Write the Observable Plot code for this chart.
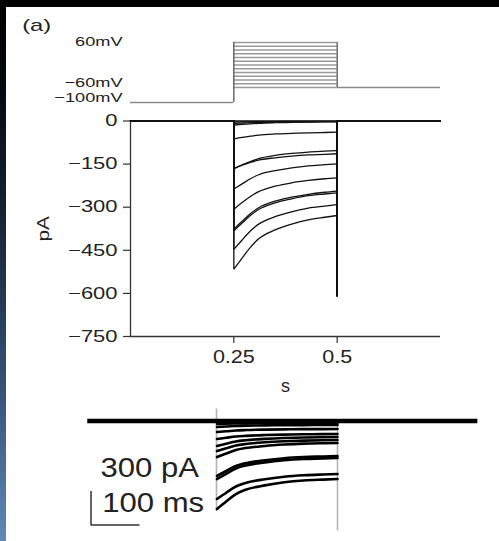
<!DOCTYPE html>
<html><head><meta charset="utf-8">
<script src="https://cdn.jsdelivr.net/npm/d3@7"></script>
<script src="https://cdn.jsdelivr.net/npm/@observablehq/plot@0.6"></script>
<style>
html,body{margin:0;padding:0;background:#fff;}
#page{position:relative;width:499px;height:541px;overflow:hidden;background:#fff;font-family:"Liberation Sans",Arial,sans-serif;}
#topband{position:absolute;left:0;top:0;width:499px;height:7px;background:#000;z-index:5;}
#leftband{position:absolute;left:0;top:0;width:6px;height:541px;z-index:5;
 background:linear-gradient(to bottom,#000 0%,#05080d 15%,#1a2a40 45%,#3a5780 75%,#6089b5 100%);}
#page svg{position:absolute;left:0;top:0;}
</style></head><body><div id="page"><div id="topband"></div><div id="leftband"></div></div>
<script>
// ---------- data ----------
// voltage protocol (mV, s)
const holdingMV = -100;
const tailMV = -60;
const stepLevelsMV = [-60, -50, -40, -30, -20, -10, 0, 10, 20, 30, 40, 50, 60];
const stepOn = 0.25, stepOff = 0.5, sweepEnd = 0.75;
const voltLabelValues = [60, -60, -100];
const voltLabelTexts = ["60mV", "\u221260mV", "\u2212100mV"];

// averaged current traces (pA) sampled during the step
const decayTimes = [0.251, 0.27, 0.29, 0.31, 0.35, 0.39, 0.43, 0.47, 0.50];
const currentTraces = [
  [0, 0, 0, 0, 0, 0, 0, 0, 0],
  [-4, -3, -3, -2, -2, -1, -1, -1, -1],
  [-8, -7, -6, -5, -4, -3, -3, -2, -2],
  [-14, -12, -10, -8, -6, -5, -4, -3, -3],
  [-62, -57, -53, -49, -45, -43, -41, -40, -39],
  [-166, -153, -141, -131, -120, -113, -108, -105, -103],
  [-164, -154, -144, -136, -128, -122, -118, -116, -114],
  [-236, -219, -201, -187, -173, -163, -156, -152, -149],
  [-306, -284, -263, -246, -227, -215, -207, -201, -198],
  [-375, -349, -323, -302, -279, -265, -255, -248, -244],
  [-381, -355, -329, -308, -285, -271, -260, -254, -250],
  [-445, -414, -383, -359, -333, -316, -303, -296, -291],
  [-514, -477, -440, -410, -379, -359, -344, -335, -329]
];
const tailPeakPA = -608;
const xTicks = [0.25, 0.5];
const xTickLabels = ["0.25", "0.5"];
const yTicks = [0, -150, -300, -450, -600, -750];
const yTickLabels = ["0", "\u2212150", "\u2212300", "\u2212450", "\u2212600", "\u2212750"];
const xLabel = "s", yLabel = "pA", panelLabel = "(a)";

// raw recording (pA)
const rawStart = -0.016, rawEnd = 0.79;
const rawTraces = [
  [-9, -9, -9, -9, -9, -9, -9, -9, -9],
  [-26, -24, -22, -21, -20, -19, -18, -18, -18],
  [-53, -49, -44, -41, -39, -37, -36, -35, -35],
  [-97, -91, -84, -80, -76, -74, -72, -72, -71],
  [-159, -148, -137, -131, -124, -120, -117, -116, -115],
  [-221, -201, -181, -170, -158, -150, -145, -143, -141],
  [-265, -241, -217, -203, -188, -179, -173, -170, -168],
  [-318, -287, -256, -239, -220, -208, -200, -196, -194],
  [-485, -441, -397, -372, -346, -328, -318, -313, -309],
  [-512, -466, -419, -393, -365, -346, -335, -330, -326],
  [-688, -633, -578, -547, -514, -492, -479, -472, -468],
  [-777, -711, -645, -607, -568, -541, -525, -517, -512]
];
const transientTimes = [0.25, 0.5];
const transientHigh = [106, 0];
const transientLow = [-794, -970];
const scaleBarMs = 100, scaleBarPA = 300;
const scaleBarLabels = ["300 pA", "100 ms"];

// ---------- helpers ----------
const page = document.getElementById("page");
const FONT = "Liberation Sans, Arial, sans-serif";
const svgStyle = {background: "transparent", overflow: "visible", fontFamily: FONT, color: "#222"};
function stretchFactor(s) {
  if (/mV$/.test(s)) return 1.42;
  if (yTickLabels.includes(s)) return 1.33;
  if (xTickLabels.includes(s)) return 1.23;
  if (s === panelLabel) return 1.4;
  if (s === yLabel) return 1.3;
  if (scaleBarLabels.includes(s)) return 1.15;
  return 1;
}
function mount(svg) {
  page.appendChild(svg);
  svg.querySelectorAll("text").forEach(t => {
    if (t.querySelector("tspan")) return;
    const k = stretchFactor(t.textContent);
    if (k !== 1) {
      const L = t.getComputedTextLength();
      t.setAttribute("textLength", (L * k).toFixed(2));
      t.setAttribute("lengthAdjust", "spacingAndGlyphs");
    }
  });
}

// ---------- voltage protocol ----------
const vMax = d3.max(stepLevelsMV);
const labelDy = [-0.8, -4.6, -4.7];
mount(Plot.plot({
  width: 499, height: 541,
  marginLeft: 130, marginRight: 59, marginTop: 42, marginBottom: 439,
  style: svgStyle,
  x: {domain: [0, sweepEnd], axis: null},
  y: {domain: [holdingMV, vMax], axis: null},
  marks: [
    Plot.ruleY(stepLevelsMV, {x1: stepOn, x2: stepOff, stroke: "#9a9a9a", strokeWidth: 1.3}),
    Plot.ruleY([holdingMV], {x1: 0, x2: stepOn, stroke: "#8a8a8a", strokeWidth: 1.3}),
    Plot.ruleY([tailMV], {x1: stepOff, x2: sweepEnd, stroke: "#8a8a8a", strokeWidth: 1.3}),
    Plot.ruleX([stepOn], {y1: holdingMV, y2: vMax, stroke: "#555", strokeWidth: 1.3}),
    Plot.ruleX([stepOff], {y1: tailMV, y2: vMax, stroke: "#555", strokeWidth: 1.3}),
    ...voltLabelValues.map((v, i) => Plot.text([v], {
      y: d => d, text: () => voltLabelTexts[i], frameAnchor: "left", dx: -8, dy: labelDy[i],
      textAnchor: "end", lineAnchor: "middle", fontSize: 12.8, fill: "#222"
    })),
    Plot.text([panelLabel], {frameAnchor: "top-left", text: d => d, dx: -108.3, dy: -16.8,
      textAnchor: "start", lineAnchor: "middle", fontSize: 17, fill: "#222"})
  ]
}));

// ---------- current traces ----------
const decayRows = [], frameRows = [];
currentTraces.forEach((vals, k) => {
  vals.forEach((v, i) => decayRows.push({trace: k, t: decayTimes[i], pA: v}));
  const first = vals[0], last = vals[vals.length - 1];
  [[0, 0], [stepOn, 0], [stepOn, first]].forEach(([t, pA]) => frameRows.push({z: k + "a", t, pA}));
  [[stepOff, last], [stepOff, tailPeakPA], [stepOff, 0], [sweepEnd, 0]].forEach(([t, pA]) => frameRows.push({z: k + "b", t, pA}));
});
mount(Plot.plot({
  width: 499, height: 541,
  marginLeft: 130, marginRight: 59, marginTop: 120.5, marginBottom: 205,
  style: svgStyle,
  x: {domain: [0, sweepEnd]},
  y: {domain: [-750, 0]},
  marks: [
    Plot.ruleX([0], {y1: -750, y2: 0, stroke: "#333", strokeWidth: 1.3}),
    Plot.ruleY([-750], {x1: 0, x2: sweepEnd, stroke: "#333", strokeWidth: 1.3}),
    Plot.axisY({ticks: yTicks, tickFormat: d => yTickLabels[yTicks.indexOf(d)], tickSize: 7, tickPadding: 6,
      fontSize: 16.5, label: null, stroke: "#333", strokeWidth: 1.2, fill: "#222"}),
    Plot.axisX({ticks: xTicks, tickFormat: d => xTickLabels[xTicks.indexOf(d)], tickSize: 7, tickPadding: 7,
      fontSize: 17.5, label: null, stroke: "#333", strokeWidth: 1.2, fill: "#222"}),
    Plot.line(frameRows, {x: "t", y: "pA", z: "z", stroke: "#111", strokeWidth: 1.3}),
    Plot.line(decayRows, {x: "t", y: "pA", z: "trace", stroke: "#111", strokeWidth: 1.3, curve: "monotone-x"}),
    Plot.text([xLabel], {frameAnchor: "bottom", text: d => d, dy: 50, textAnchor: "middle", lineAnchor: "middle",
      fontSize: 18, fill: "#222"}),
    Plot.text([yLabel], {frameAnchor: "left", text: d => d, dx: -87, rotate: -90, textAnchor: "middle",
      lineAnchor: "middle", fontSize: 16, fill: "#222"})
  ]
}));

// ---------- raw recording ----------
const rawRows = [];
rawTraces.forEach((vals, k) => vals.forEach((v, i) => rawRows.push({trace: k, t: decayTimes[i], pA: v})));
const transients = transientTimes.map((t, i) => ({t, hi: transientHigh[i], lo: transientLow[i]}));
const barT = -0.0093, barPA = -918; // scale bar corner (layout)
const bar = [[barT, barPA + scaleBarPA], [barT, barPA], [barT + scaleBarMs / 1000, barPA]];
mount(Plot.plot({
  width: 499, height: 541,
  style: svgStyle,
  x: {domain: [stepOn, stepOff], range: [216, 337], axis: null},
  y: {domain: [0, -300], range: [420.5, 454.5], axis: null},
  marks: [
    Plot.ruleX(transients, {x: "t", y1: "lo", y2: "hi", stroke: "#b4b4b4", strokeWidth: 1.6}),
    Plot.ruleY([0], {x1: rawStart, x2: rawEnd, stroke: "#000", strokeWidth: 4.5}),
    Plot.line(rawRows, {x: "t", y: "pA", z: "trace", stroke: "#000", strokeWidth: 2.6, curve: "monotone-x"}),
    Plot.line(bar, {x: d => d[0], y: d => d[1], stroke: "#333", strokeWidth: 1.5, strokeLinecap: "butt", strokeLinejoin: "miter"}),
    Plot.text([scaleBarLabels[0]], {x: () => barT, y: () => barPA, text: d => d, dx: 9.5, dy: -56.5,
      textAnchor: "start", lineAnchor: "middle", fontSize: 27, fill: "#222"}),
    Plot.text([scaleBarLabels[1]], {x: () => barT, y: () => barPA, text: d => d, dx: 11.2, dy: -21.5,
      textAnchor: "start", lineAnchor: "middle", fontSize: 27, fill: "#222"})
  ]
}));
</script></body></html>
